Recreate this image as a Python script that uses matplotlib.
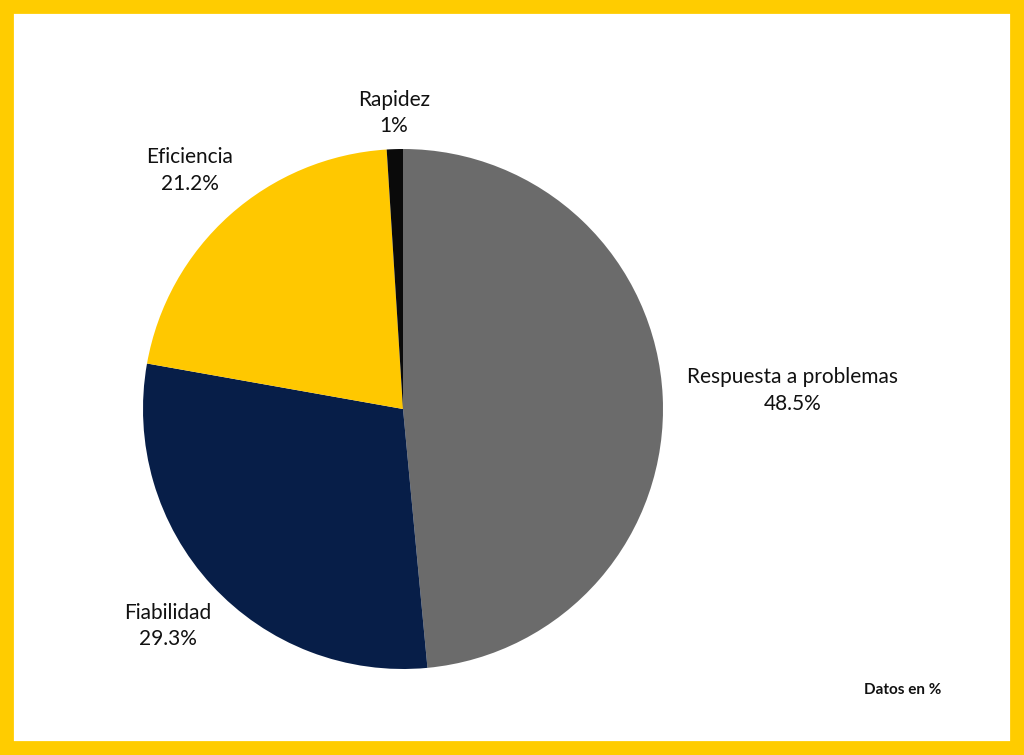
import matplotlib
matplotlib.use("Agg")
import matplotlib.pyplot as plt
import numpy as np
from matplotlib.patches import Rectangle

categories = ["Respuesta a problemas", "Fiabilidad", "Eficiencia", "Rapidez"]
values = [48.5, 29.3, 21.2, 1.0]
pct_labels = ["48.5%", "29.3%", "21.2%", "1%"]
colors = ["#6b6b6b", "#071e48", "#ffc800", "#0a0a0a"]
label_dist = [1.5, 1.23, 1.23, 1.14]

plt.rcParams['font.family'] = ['Lato', 'DejaVu Sans']
fig = plt.figure(figsize=(10.24, 7.55), dpi=100)
fig.patches.append(Rectangle((0, 0), 1, 1, transform=fig.transFigure,
                             fill=False, edgecolor="#ffcc00", linewidth=20, zorder=10))
ax = fig.add_axes([143/1024, 86/755, 520/1024, 520/755])
wedges, _ = ax.pie(values, colors=colors, startangle=90, counterclock=False,
                   wedgeprops=dict(linewidth=0))
for w, name, p, d in zip(wedges, categories, pct_labels, label_dist):
    ang = np.deg2rad((w.theta1 + w.theta2) / 2)
    ax.text(d*np.cos(ang), d*np.sin(ang), f"{name}\n{p}", ha="center", va="center",
            fontsize=15, color="#111111", linespacing=1.4)
ax.set_xlim(-1, 1); ax.set_ylim(-1, 1)
fig.text(903/1024, 1-690/755, "Datos en %", ha="center", va="center",
         fontsize=11, fontweight="bold", color="#111111")
fig.savefig("out.png", dpi=100, facecolor="white")
